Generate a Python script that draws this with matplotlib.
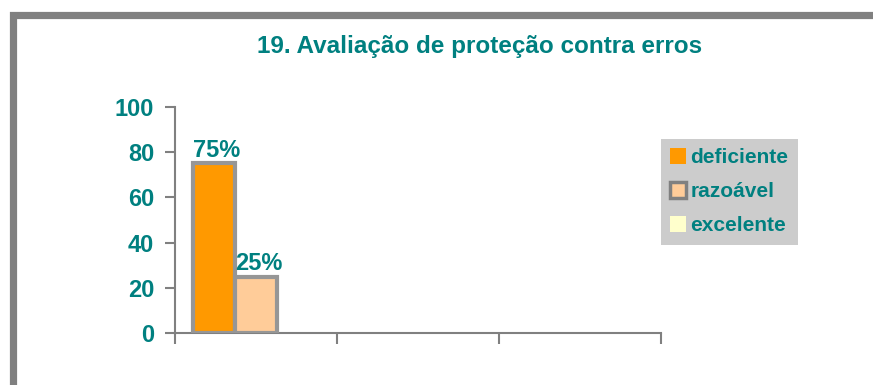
import matplotlib.pyplot as plt
import numpy as np
from matplotlib.patches import Patch, Rectangle

plt.rcParams['font.family'] = ['Liberation Sans', 'DejaVu Sans']

categories = ['', '', '']
series = ['deficiente', 'razoável', 'excelente']
deficiente = [75, np.nan, np.nan]
razoavel = [25, np.nan, np.nan]
excelente = [np.nan, np.nan, np.nan]
colors = ['#FF9900', '#FFCC99', '#FFFFCC']

teal = '#008080'
gray = '#808080'

fig = plt.figure(figsize=(8.73, 3.85), dpi=100)
ax = fig.add_axes([175 / 873, 1 - 333 / 385, (661 - 175) / 873, (333 - 107) / 385])

# outer chart border (only top/left visible)
fig.patches.append(Rectangle((12.5 / 873, -0.1), 1.2, 1 - 15.5 / 385 + 0.1,
                             transform=fig.transFigure, fill=False,
                             edgecolor=gray, linewidth=5.2, zorder=0))

x = np.arange(len(categories))
width = 0.26
for i, (vals, col) in enumerate(zip([deficiente, razoavel, excelente], colors)):
    bars = ax.bar(x + (i - 1) * width, vals, width, color=col,
                  edgecolor='#969696', linewidth=3, zorder=3)
    for b, v in zip(bars, vals):
        if not np.isnan(v):
            ax.text(b.get_x() + b.get_width() / 2 + 0.02, v + 0.5, f'{v:.0f}%',
                    ha='center', va='bottom', color=teal,
                    fontsize=17, fontweight='bold')

ax.set_xlim(-0.5, 2.5)
ax.set_ylim(0, 100)
ax.set_yticks(range(0, 101, 20))
ax.set_xticks([-0.5, 0.5, 1.5, 2.5])
ax.set_xticklabels([])
for s in ['top', 'right']:
    ax.spines[s].set_visible(False)
for s in ['left', 'bottom']:
    ax.spines[s].set_color(gray)
    ax.spines[s].set_linewidth(1.5)
ax.tick_params(axis='y', colors=gray, length=7, width=1.5, pad=8,
               labelcolor=teal, labelsize=17)
ax.tick_params(axis='x', colors=gray, length=8, width=1.5)
for lbl in ax.get_yticklabels():
    lbl.set_fontweight('bold')

fig.text(480 / 873, 1 - 47 / 385, '19. Avaliação de proteção contra erros',
         ha='center', va='center', color=teal, fontsize=17.5, fontweight='bold')

handles = [Patch(facecolor=colors[0], edgecolor='none'),
           Patch(facecolor=colors[1], edgecolor=gray, linewidth=2.5),
           Patch(facecolor=colors[2], edgecolor='none')]
leg = fig.legend(handles, series, loc='upper left',
                 bbox_to_anchor=(661 / 873, 1 - 139 / 385),
                 frameon=True, fancybox=False, borderaxespad=0,
                 handlelength=0.75, handleheight=0.75, handletextpad=0.2,
                 labelspacing=0.72, borderpad=0.45, fontsize=15)
leg.get_frame().set_facecolor('#C0C0C0')
leg.get_frame().set_edgecolor('none')
for t in leg.get_texts():
    t.set_color(teal)
    t.set_fontweight('bold')

fig.savefig('out.png', dpi=100)
